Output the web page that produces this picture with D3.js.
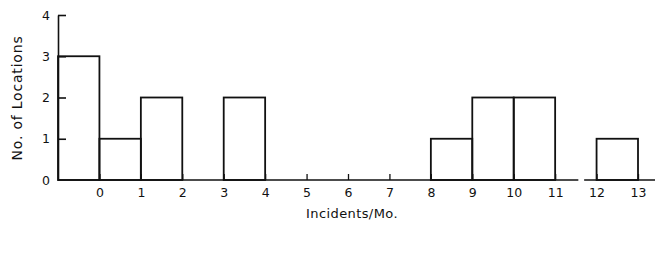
<html>
<head>
  <script src="https://d3js.org/d3.v7.min.js"></script>
  <style>
    body { margin: 0; background: #fff; }
    text { font-family: "DejaVu Sans", sans-serif; fill: #111; }
  </style>
</head>
<body>
<div id="container"></div>
<script>
// bins: [start, start+1) incidents per month
var binStart = [-1, 0, 1, 2, 3, 4, 5, 6, 7, 8, 9, 10, 11, 12]
var counts   = [ 3, 1, 2, 0, 2, 0, 0, 0, 0, 1, 2, 2, 0, 1]
var xTicks = [0, 1, 2, 3, 4, 5, 6, 7, 8, 9, 10, 11, 12, 13]
var yTicks = [0, 1, 2, 3, 4]
var xTitle = "Incidents/Mo."
var yTitle = "No. of Locations"

var w = 656, h = 255

var svg = d3.select("#container").append("svg")
    .attr("width", w).attr("height", h)

var x = d3.scaleLinear().domain([-1, 13]).range([58, 638])
var y = d3.scaleLinear().domain([0, 4]).range([180, 15])

var ink = "#111"
var fnt = "\"DejaVu Sans\", sans-serif"

// y axis, ticks pointing in
var yAxis = d3.axisLeft(y).tickValues(yTicks).tickFormat(d3.format("d"))
    .tickSizeInner(-8).tickSizeOuter(0).tickPadding(8)
var gy = svg.append("g").attr("transform", "translate(" + x(-1) + ",0)").call(yAxis)
gy.attr("font-size", null).attr("font-family", null)
gy.selectAll("text").style("font-size", "12.5px").style("font-family", fnt)
gy.selectAll("line, path").attr("stroke", ink).attr("stroke-width", 1.6)
gy.selectAll(".tick").filter(function(d) { return d == 0 }).select("line").remove()

// x axis labels + little upward ticks
var xAxis = d3.axisBottom(x).tickValues(xTicks).tickFormat(d3.format("d"))
    .tickSizeInner(-6).tickSizeOuter(0).tickPadding(8)
var gx = svg.append("g").attr("transform", "translate(0," + y(0) + ")").call(xAxis)
gx.attr("font-size", null).attr("font-family", null)
gx.select(".domain").remove()
gx.selectAll("text").style("font-size", "12.5px").style("font-family", fnt)
gx.selectAll("line").attr("stroke", ink).attr("stroke-width", 1.3)

// baseline with a break between 11 and 12
var breakAt = [11.56, 11.7]
svg.append("line").attr("x1", x(-1)).attr("x2", x(breakAt[0]))
    .attr("y1", y(0)).attr("y2", y(0)).attr("stroke", ink).attr("stroke-width", 1.6)
svg.append("line").attr("x1", x(breakAt[1])).attr("x2", 655)
    .attr("y1", y(0)).attr("y2", y(0)).attr("stroke", ink).attr("stroke-width", 1.6)

// bars
svg.selectAll(".bar")
    .data(binStart.map(function(s, i) { return { s: s, c: counts[i] } }).filter(function(d) { return d.c > 0 }))
    .enter().append("rect")
    .attr("class", "bar")
    .attr("x", function(d) { return x(d.s) })
    .attr("y", function(d) { return y(d.c) })
    .attr("width", function(d) { return x(d.s + 1) - x(d.s) })
    .attr("height", function(d) { return y(0) - y(d.c) })
    .attr("fill", "none")
    .attr("stroke", ink)
    .attr("stroke-width", 1.8)

// titles
svg.append("text")
    .attr("transform", "translate(22," + 98 + ") rotate(-90)")
    .attr("text-anchor", "middle")
    .style("font-size", "14px")
    .style("letter-spacing", "0.8px")
    .text(yTitle)

svg.append("text")
    .attr("x", 352).attr("y", 218)
    .attr("text-anchor", "middle")
    .style("font-size", "13px")
    .style("letter-spacing", "0.4px")
    .text(xTitle)
</script>
</body>
</html>
